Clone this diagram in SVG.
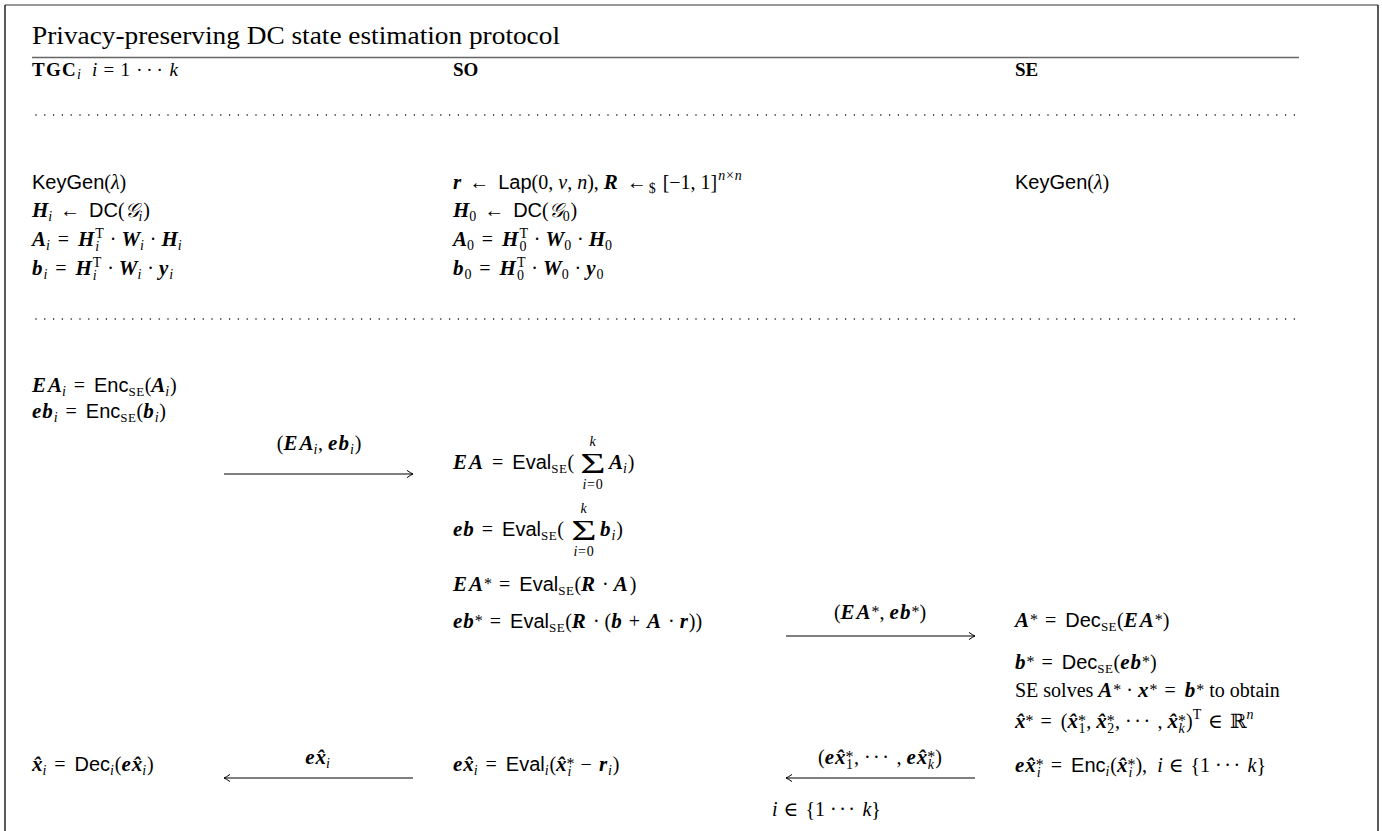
<svg xmlns="http://www.w3.org/2000/svg" width="1382" height="831" viewBox="0 0 1382 831">
<defs>
<style>
text{font-family:"Liberation Serif","DejaVu Serif",serif;font-size:20px;fill:#000}
.i{font-style:italic}
.B{font-style:italic;font-weight:bold;font-size:21px;letter-spacing:2px}
.b{font-style:italic;font-weight:bold;font-size:21px;letter-spacing:1px}
.bx{font-style:italic;font-weight:bold;font-size:21px}
.sf{font-family:"Liberation Sans","DejaVu Sans",sans-serif;font-style:normal;font-weight:normal}
.s{font-size:14px;letter-spacing:0.8px}
.se{font-size:13px;font-style:normal;font-weight:normal;letter-spacing:0.5px}
.ast{font-size:16px;font-style:normal;font-weight:normal}
.eq{letter-spacing:2px;font-style:normal;font-weight:normal}
.op{letter-spacing:1px;font-style:normal;font-weight:normal}
.ttl{font-size:25px}
.hd{font-size:19px}
.dots{letter-spacing:2.5px}
.sum{font-size:30px}
.rule{stroke:#666;stroke-width:1.3}
.dot{stroke:#000;stroke-width:1.5;stroke-dasharray:0 8.8;stroke-linecap:round}
.arr{stroke:#000;stroke-width:1.1;fill:none}
</style>
<marker id="ah" viewBox="-8 -5 10 10" markerWidth="10" markerHeight="10" refX="0" refY="0" orient="auto" markerUnits="userSpaceOnUse" overflow="visible"><path d="M-6,-3.6 Q-2.5,-1 0,0 Q-2.5,1 -6,3.6" fill="none" stroke="#000" stroke-width="1"/></marker>
</defs>
<rect width="1382" height="831" fill="#fff"/>
<g id="frame">
<line x1="5" y1="5" x2="1378" y2="5" stroke="#777" stroke-width="1.3"/>
<line x1="5" y1="5" x2="5" y2="831" stroke="#000" stroke-width="1.3"/>
<line x1="1378" y1="5" x2="1378" y2="831" stroke="#000" stroke-width="1.3"/>
<text class="ttl" x="32" y="44" textLength="528" lengthAdjust="spacingAndGlyphs">Privacy-preserving DC state estimation protocol</text>
<line class="rule" x1="32" y1="57.5" x2="1299" y2="57.5"/>
<line class="dot" x1="36" y1="115" x2="1296" y2="115"/>
<line class="dot" x1="36" y1="319" x2="1296" y2="319"/>
</g>
<g id="tgc">
<text class="hd" x="32" y="76" textLength="146" lengthAdjust="spacing"><tspan font-weight="bold">TGC</tspan><tspan class="i s" dy="3">i</tspan><tspan class="i" dy="-3" dx="9">i</tspan><tspan dx="5">=</tspan><tspan dx="5">1</tspan><tspan class="dots" dx="5">···</tspan><tspan class="i" dx="3">k</tspan></text>
<text x="32" y="189"><tspan class="sf">KeyGen</tspan>(<tspan class="i">λ</tspan>)</text>
<text x="32" y="217"><tspan class="B">H</tspan><tspan class="i s" dx="-2" dy="4">i</tspan><tspan class="eq" dy="-4"> ← </tspan><tspan class="sf">DC</tspan>(<tspan class="i">𝒢</tspan><tspan class="i s" dy="4">i</tspan><tspan dy="-4">)</tspan></text>
<text x="32" y="246"><tspan class="B">A</tspan><tspan class="i s" dx="-2" dy="4">i</tspan><tspan class="eq" dy="-4"> = </tspan><tspan class="B">H</tspan><tspan class="s" dx="-1" dy="-8">T</tspan><tspan class="i s" dx="-9.4" dy="13">i</tspan><tspan dx="4.7" dy="-5"> · </tspan><tspan class="B">W</tspan><tspan class="i s" dx="-2" dy="4">i</tspan><tspan dy="-4"> · </tspan><tspan class="B">H</tspan><tspan class="i s" dx="-2" dy="4">i</tspan></text>
<text x="32" y="275"><tspan class="b">b</tspan><tspan class="i s" dy="4">i</tspan><tspan class="eq" dy="-4"> = </tspan><tspan class="B">H</tspan><tspan class="s" dx="-1" dy="-8">T</tspan><tspan class="i s" dx="-9.4" dy="13">i</tspan><tspan dx="4.7" dy="-5"> · </tspan><tspan class="B">W</tspan><tspan class="i s" dx="-2" dy="4">i</tspan><tspan dy="-4"> · </tspan><tspan class="b">y</tspan><tspan class="i s" dy="4">i</tspan></text>
<text x="32" y="392"><tspan class="B">EA</tspan><tspan class="i s" dx="-2" dy="4">i</tspan><tspan class="eq" dy="-4"> = </tspan><tspan class="sf">Enc</tspan><tspan class="se" dy="4">SE</tspan><tspan dy="-4">(</tspan><tspan class="B">A</tspan><tspan class="i s" dx="-2" dy="4">i</tspan><tspan dy="-4">)</tspan></text>
<text x="32" y="418"><tspan class="b">eb</tspan><tspan class="i s" dy="4">i</tspan><tspan class="eq" dy="-4"> = </tspan><tspan class="sf">Enc</tspan><tspan class="se" dy="4">SE</tspan><tspan dy="-4">(</tspan><tspan class="b">b</tspan><tspan class="i s" dy="4">i</tspan><tspan dy="-4">)</tspan></text>
<text x="32" y="771"><tspan class="bx">x̂</tspan><tspan class="i s" dy="4">i</tspan><tspan class="eq" dy="-4"> = </tspan><tspan class="sf">Dec</tspan><tspan class="i s" dy="4">i</tspan><tspan dy="-4">(</tspan><tspan class="b">e</tspan><tspan class="bx">x̂</tspan><tspan class="i s" dy="4">i</tspan><tspan dy="-4">)</tspan></text>
</g>
<g id="so">
<text class="hd" x="453" y="76" font-weight="bold">SO</text>
<text x="453" y="189"><tspan class="b">r</tspan><tspan class="eq"> ← </tspan><tspan class="sf">Lap</tspan>(0, <tspan class="i">v</tspan>, <tspan class="i">n</tspan>), <tspan class="B">R</tspan><tspan class="eq"> ←</tspan><tspan class="s" dy="4">$</tspan><tspan dy="-4" dx="6">[−1, 1]</tspan><tspan class="i s" dy="-9" dx="1">n</tspan><tspan class="s">×</tspan><tspan class="i s">n</tspan></text>
<text x="453" y="217"><tspan class="B">H</tspan><tspan class="s" dx="-2" dy="4">0</tspan><tspan class="eq" dy="-4"> ← </tspan><tspan class="sf">DC</tspan>(<tspan class="i">𝒢</tspan><tspan class="s" dy="4">0</tspan><tspan dy="-4">)</tspan></text>
<text x="453" y="246"><tspan class="B">A</tspan><tspan class="s" dx="-2" dy="4">0</tspan><tspan class="eq" dy="-4"> = </tspan><tspan class="B">H</tspan><tspan class="s" dx="-1" dy="-8">T</tspan><tspan class="s" dx="-9.4" dy="13">0</tspan><tspan dx="1.6" dy="-5"> · </tspan><tspan class="B">W</tspan><tspan class="s" dx="-2" dy="4">0</tspan><tspan dy="-4"> · </tspan><tspan class="B">H</tspan><tspan class="s" dx="-2" dy="4">0</tspan></text>
<text x="453" y="275"><tspan class="b">b</tspan><tspan class="s" dy="4">0</tspan><tspan class="eq" dy="-4"> = </tspan><tspan class="B">H</tspan><tspan class="s" dx="-1" dy="-8">T</tspan><tspan class="s" dx="-9.4" dy="13">0</tspan><tspan dx="1.6" dy="-5"> · </tspan><tspan class="B">W</tspan><tspan class="s" dx="-2" dy="4">0</tspan><tspan dy="-4"> · </tspan><tspan class="b">y</tspan><tspan class="s" dy="4">0</tspan></text>
<text x="453" y="469"><tspan class="B">EA</tspan><tspan class="eq"> = </tspan><tspan class="sf">Eval</tspan><tspan class="se" dy="4">SE</tspan><tspan dy="-4">(</tspan></text>
<text class="sum" transform="translate(593,473) scale(1.45,1)" text-anchor="middle">Σ</text>
<text class="i s" x="593" y="446" text-anchor="middle">k</text>
<text class="s" x="593" y="489" text-anchor="middle"><tspan class="i">i</tspan>=0</text>
<text x="609" y="469"><tspan class="B">A</tspan><tspan class="i s" dx="-2" dy="4">i</tspan><tspan dy="-4">)</tspan></text>
<text x="453" y="536"><tspan class="b">eb</tspan><tspan class="eq"> = </tspan><tspan class="sf">Eval</tspan><tspan class="se" dy="4">SE</tspan><tspan dy="-4">(</tspan></text>
<text class="sum" transform="translate(584,540) scale(1.45,1)" text-anchor="middle">Σ</text>
<text class="i s" x="584" y="513" text-anchor="middle">k</text>
<text class="s" x="584" y="556" text-anchor="middle"><tspan class="i">i</tspan>=0</text>
<text x="600" y="536"><tspan class="b">b</tspan><tspan class="i s" dy="4">i</tspan><tspan dy="-4">)</tspan></text>
<text x="453" y="591"><tspan class="B">EA</tspan><tspan class="ast" dx="-1" dy="-2">*</tspan><tspan class="eq" dy="2"> = </tspan><tspan class="sf">Eval</tspan><tspan class="se" dy="4">SE</tspan><tspan dy="-4">(</tspan><tspan class="B">R</tspan> · <tspan class="B">A</tspan>)</text>
<text x="453" y="628"><tspan class="b">eb</tspan><tspan class="ast" dy="-2">*</tspan><tspan class="eq" dy="2"> = </tspan><tspan class="sf">Eval</tspan><tspan class="se" dy="4">SE</tspan><tspan dy="-4">(</tspan><tspan class="B">R</tspan> · (<tspan class="b">b</tspan><tspan class="op"> + </tspan><tspan class="B">A</tspan> · <tspan class="b">r</tspan>))</text>
<text x="453" y="771"><tspan class="b">e</tspan><tspan class="bx">x̂</tspan><tspan class="i s" dy="4">i</tspan><tspan class="eq" dy="-4"> = </tspan><tspan class="sf">Eval</tspan><tspan class="i s" dy="4">i</tspan><tspan dy="-4">(</tspan><tspan class="bx">x̂</tspan><tspan class="ast" dy="-2">*</tspan><tspan class="i s" dx="-7" dy="7">i</tspan><tspan class="op" dx="2.3" dy="-5"> − </tspan><tspan class="b">r</tspan><tspan class="i s" dy="4">i</tspan><tspan dy="-4">)</tspan></text>
</g>
<g id="se">
<text class="hd" x="1015" y="76" font-weight="bold">SE</text>
<text x="1015" y="189"><tspan class="sf">KeyGen</tspan>(<tspan class="i">λ</tspan>)</text>
<text x="1015" y="627"><tspan class="B">A</tspan><tspan class="ast" dx="-1" dy="-2">*</tspan><tspan class="eq" dy="2"> = </tspan><tspan class="sf">Dec</tspan><tspan class="se" dy="4">SE</tspan><tspan dy="-4">(</tspan><tspan class="B">EA</tspan><tspan class="ast" dx="-1" dy="-2">*</tspan><tspan dy="2">)</tspan></text>
<text x="1015" y="669"><tspan class="b">b</tspan><tspan class="ast" dy="-2">*</tspan><tspan class="eq" dy="2"> = </tspan><tspan class="sf">Dec</tspan><tspan class="se" dy="4">SE</tspan><tspan dy="-4">(</tspan><tspan class="b">eb</tspan><tspan class="ast" dy="-2">*</tspan><tspan dy="2">)</tspan></text>
<text x="1015" y="697">SE solves <tspan class="B">A</tspan><tspan class="ast" dx="-1" dy="-2">*</tspan><tspan dy="2"> · </tspan><tspan class="b">x</tspan><tspan class="ast" dy="-2">*</tspan><tspan class="eq" dy="2"> = </tspan><tspan class="b">b</tspan><tspan class="ast" dy="-2">*</tspan><tspan dy="2"> to obtain</tspan></text>
<text x="1015" y="728"><tspan class="bx">x̂</tspan><tspan class="ast" dy="-2">*</tspan><tspan class="eq" dy="2"> = </tspan>(<tspan class="bx">x̂</tspan><tspan class="ast" dy="-2">*</tspan><tspan class="s" dx="-7.5" dy="7">1</tspan><tspan dy="-5">, </tspan><tspan class="bx">x̂</tspan><tspan class="ast" dy="-2">*</tspan><tspan class="s" dx="-7.5" dy="7">2</tspan><tspan dy="-5">, </tspan><tspan class="dots">···</tspan> , <tspan class="bx">x̂</tspan><tspan class="ast" dy="-2">*</tspan><tspan class="i s" dx="-7.5" dy="7">k</tspan><tspan dx="0.5" dy="-5">)</tspan><tspan class="s" dy="-9">T</tspan><tspan class="op" dy="9"> ∈ </tspan>ℝ<tspan class="i s" dy="-9">n</tspan></text>
<text x="1015" y="772"><tspan class="b">e</tspan><tspan class="bx">x̂</tspan><tspan class="ast" dy="-2">*</tspan><tspan class="i s" dx="-7" dy="7">i</tspan><tspan class="eq" dx="2.3" dy="-5"> = </tspan><tspan class="sf">Enc</tspan><tspan class="i s" dy="4">i</tspan><tspan dy="-4">(</tspan><tspan class="bx">x̂</tspan><tspan class="ast" dy="-2">*</tspan><tspan class="i s" dx="-7" dy="7">i</tspan><tspan dx="2.3" dy="-5">),</tspan><tspan class="i" dx="10">i</tspan><tspan class="op"> ∈ </tspan>{1 <tspan class="dots">···</tspan> <tspan class="i">k</tspan>}</text>
</g>
<g id="connectors">
<line class="arr" x1="224" y1="474" x2="413" y2="474" marker-end="url(#ah)"/>
<text x="319" y="450" text-anchor="middle">(<tspan class="B">EA</tspan><tspan class="i s" dx="-2" dy="4">i</tspan><tspan dy="-4">, </tspan><tspan class="b">eb</tspan><tspan class="i s" dy="4">i</tspan><tspan dy="-4">)</tspan></text>
<line class="arr" x1="786" y1="636" x2="975" y2="636" marker-end="url(#ah)"/>
<text x="880" y="619" text-anchor="middle">(<tspan class="B">EA</tspan><tspan class="ast" dx="-1" dy="-2">*</tspan><tspan dy="2">, </tspan><tspan class="b">eb</tspan><tspan class="ast" dy="-2">*</tspan><tspan dy="2">)</tspan></text>
<line class="arr" x1="413" y1="778" x2="224" y2="778" marker-end="url(#ah)"/>
<text x="318" y="764" text-anchor="middle"><tspan class="b">e</tspan><tspan class="bx">x̂</tspan><tspan class="i s" dy="4">i</tspan></text>
<line class="arr" x1="975" y1="778" x2="786" y2="778" marker-end="url(#ah)"/>
<text x="880" y="764" text-anchor="middle">(<tspan class="b">e</tspan><tspan class="bx">x̂</tspan><tspan class="ast" dy="-2">*</tspan><tspan class="s" dx="-7.5" dy="7">1</tspan><tspan dy="-5">, </tspan><tspan class="dots">···</tspan> , <tspan class="b">e</tspan><tspan class="bx">x̂</tspan><tspan class="ast" dy="-2">*</tspan><tspan class="i s" dx="-7.5" dy="7">k</tspan><tspan dx="0.5" dy="-5">)</tspan></text>
<text x="772" y="816"><tspan class="i">i</tspan><tspan class="op"> ∈ </tspan>{1 <tspan class="dots">···</tspan> <tspan class="i">k</tspan>}</text>
</g>
</svg>
